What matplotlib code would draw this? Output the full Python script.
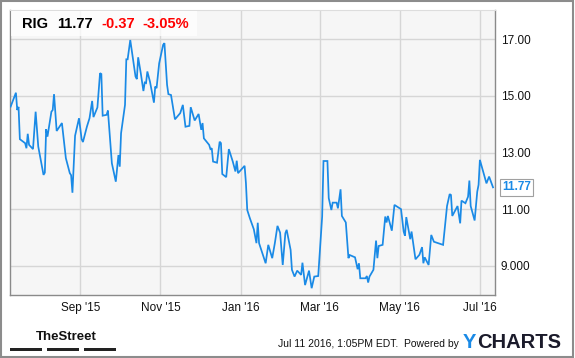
import datetime as dt
import matplotlib
matplotlib.use("Agg")
import matplotlib.pyplot as plt
import matplotlib.dates as mdates
from matplotlib.patches import Rectangle

# RIG daily closing prices, Jul 2015 - Jul 2016
dates = [
    "2015-07-10", "2015-07-14", "2015-07-15", "2015-07-16", "2015-07-17", "2015-07-21",
    "2015-07-22", "2015-07-23", "2015-07-24", "2015-07-27", "2015-07-29", "2015-07-31",
    "2015-08-04", "2015-08-05", "2015-08-06", "2015-08-07", "2015-08-10", "2015-08-11",
    "2015-08-12", "2015-08-14", "2015-08-18", "2015-08-21", "2015-08-24", "2015-08-25",
    "2015-08-26", "2015-08-28", "2015-08-31", "2015-09-02", "2015-09-03", "2015-09-06",
    "2015-09-08", "2015-09-10", "2015-09-11", "2015-09-14", "2015-09-16", "2015-09-17",
    "2015-09-18", "2015-09-21", "2015-09-22", "2015-09-25", "2015-09-28", "2015-09-30",
    "2015-10-01", "2015-10-02", "2015-10-05", "2015-10-06", "2015-10-07", "2015-10-09",
    "2015-10-11", "2015-10-13", "2015-10-14", "2015-10-15", "2015-10-17", "2015-10-19",
    "2015-10-20", "2015-10-21", "2015-10-22", "2015-10-24", "2015-10-27", "2015-10-28",
    "2015-10-29", "2015-10-31", "2015-11-03", "2015-11-04", "2015-11-06", "2015-11-07",
    "2015-11-09", "2015-11-12", "2015-11-16", "2015-11-18", "2015-11-20", "2015-11-23",
    "2015-11-24", "2015-11-27", "2015-11-30", "2015-12-02", "2015-12-03", "2015-12-04",
    "2015-12-08", "2015-12-09", "2015-12-10", "2015-12-11", "2015-12-14", "2015-12-16",
    "2015-12-17", "2015-12-18", "2015-12-21", "2015-12-23", "2015-12-26", "2015-12-28",
    "2015-12-29", "2015-12-30", "2016-01-04", "2016-01-05", "2016-01-06", "2016-01-08",
    "2016-01-11", "2016-01-13", "2016-01-14", "2016-01-15", "2016-01-20", "2016-01-22",
    "2016-01-25", "2016-01-27", "2016-01-29", "2016-01-31", "2016-02-02", "2016-02-04",
    "2016-02-05", "2016-02-08", "2016-02-09", "2016-02-11", "2016-02-13", "2016-02-16",
    "2016-02-17", "2016-02-19", "2016-02-22", "2016-02-24", "2016-02-26", "2016-02-29",
    "2016-03-03", "2016-03-04", "2016-03-07", "2016-03-08", "2016-03-10", "2016-03-11",
    "2016-03-14", "2016-03-15", "2016-03-17", "2016-03-18", "2016-03-21", "2016-03-23",
    "2016-03-24", "2016-03-28", "2016-03-30", "2016-03-31", "2016-04-01", "2016-04-05",
    "2016-04-06", "2016-04-07", "2016-04-08", "2016-04-11", "2016-04-13", "2016-04-14",
    "2016-04-15", "2016-04-18", "2016-04-20", "2016-04-21", "2016-04-22", "2016-04-25",
    "2016-04-27", "2016-05-02", "2016-05-04", "2016-05-05", "2016-05-06", "2016-05-09",
    "2016-05-10", "2016-05-13", "2016-05-16", "2016-05-18", "2016-05-19", "2016-05-20",
    "2016-05-23", "2016-05-25", "2016-05-27", "2016-06-01", "2016-06-03", "2016-06-06",
    "2016-06-08", "2016-06-09", "2016-06-10", "2016-06-14", "2016-06-16", "2016-06-17",
    "2016-06-20", "2016-06-22", "2016-06-23", "2016-06-24", "2016-06-27", "2016-06-29",
    "2016-06-30", "2016-07-01", "2016-07-06", "2016-07-08", "2016-07-11",
]
prices = [
    14.62, 15.11, 14.50, 14.61, 13.47, 13.33,
    13.15, 13.66, 13.27, 13.12, 14.44, 13.21,
    12.21, 12.29, 13.82, 13.56, 14.44, 14.50,
    15.06, 13.76, 14.04, 12.80, 12.27, 12.20,
    11.58, 13.59, 14.21, 13.47, 13.37, 13.91,
    14.21, 14.82, 14.25, 14.59, 15.80, 15.77,
    14.30, 14.33, 14.48, 12.62, 11.97, 12.91,
    12.50, 13.68, 14.68, 16.29, 16.29, 16.97,
    16.33, 15.68, 15.59, 16.36, 15.80, 15.17,
    15.47, 15.45, 15.86, 15.50, 14.76, 15.33,
    15.27, 16.15, 16.80, 16.86, 15.39, 15.06,
    15.03, 14.17, 14.39, 14.68, 13.91, 13.94,
    14.60, 14.13, 14.36, 13.80, 14.04, 13.50,
    13.27, 13.12, 13.15, 12.68, 12.64, 13.38,
    13.33, 12.24, 12.13, 13.12, 12.68, 12.33,
    12.71, 12.27, 12.53, 11.92, 10.97, 10.68,
    10.29, 9.80, 10.52, 9.80, 9.09, 9.74,
    9.27, 9.80, 10.41, 10.17, 9.03, 10.15,
    10.27, 9.56, 8.86, 8.62, 8.83, 8.68,
    9.11, 8.32, 8.83, 8.21, 8.62, 8.64,
    10.74, 12.70, 12.70, 11.39, 10.97, 11.23,
    11.23, 11.03, 11.70, 10.76, 10.53, 9.27,
    9.38, 9.30, 8.88, 9.09, 8.56, 8.56,
    8.64, 8.41, 8.62, 8.86, 9.89, 9.27,
    9.70, 9.74, 10.74, 10.53, 10.76, 10.24,
    11.15, 11.00, 10.21, 10.06, 10.72, 9.94,
    10.21, 9.23, 9.39, 9.66, 9.09, 9.30,
    9.03, 10.09, 9.85, 9.77, 9.74, 11.11,
    11.53, 11.50, 10.76, 11.11, 10.50, 11.30,
    11.21, 11.44, 12.01, 11.11, 10.60, 11.62,
    11.86, 12.74, 11.91, 12.15, 11.77,
]

# Axis ticks
x_ticks = ["2015-09-01", "2015-11-01", "2016-01-01", "2016-03-01", "2016-05-01", "2016-07-01"]
y_ticks = [9, 11, 13, 15, 17]
y_tick_labels = ["9.000", "11.00", "13.00", "15.00", "17.00"]

# Header values
ticker = "RIG"
last_price = "11.77"
change = "-0.37"
change_pct = "-3.05%"
footer_text = "Jul 11 2016, 1:05PM EDT.  Powered by"

LINE_BLUE = "#1a8ae6"
W, H = 575, 358

plt.rcParams["font.family"] = ["Liberation Sans", "DejaVu Sans"]

fig = plt.figure(figsize=(W / 100, H / 100), dpi=100)
fig.patch.set_facecolor("white")

# Helper to convert pixel coords (from top-left) to figure fraction
def fx(px):
    return px / W

def fy(py):
    return 1 - py / H

ax = fig.add_axes([fx(10), fy(295), fx(495) - fx(10), fy(10) - fy(295)])
ax.set_facecolor("#f6f6f6")

date_vals = [dt.datetime.strptime(d, "%Y-%m-%d") for d in dates]
ax.plot(date_vals, prices, color=LINE_BLUE, lw=1.25, solid_joinstyle="miter", zorder=3)

# Axis limits
ax.set_xlim(dt.datetime(2015, 7, 9, 12), dt.datetime(2016, 7, 12, 12))
ax.set_ylim(7.97, 18.03)

# X ticks: month starts
ax.set_xticks([dt.datetime.strptime(d, "%Y-%m-%d") for d in x_ticks])
ax.xaxis.set_major_formatter(mdates.DateFormatter("%b '%y"))

# Y ticks on the right
ax.yaxis.tick_right()
ax.set_yticks(y_ticks)
ax.set_yticklabels(y_tick_labels)

ax.tick_params(axis="x", length=0, pad=5, labelsize=8.5, colors="#111111")
ax.tick_params(axis="y", length=0, pad=4, labelsize=8.5, colors="#111111")

# Grid lines
ax.grid(True, color="#d6d6d6", lw=1)
ax.set_axisbelow(True)

for side in ["left", "right", "bottom"]:
    ax.spines[side].set_color("#8a8a8a")
    ax.spines[side].set_linewidth(1)
ax.spines["top"].set_color("#dddddd")

# Last price flag
ax.annotate(last_price, xy=(1, prices[-1]), xycoords=("axes fraction", "data"),
            xytext=(5, 0), textcoords="offset points", ha="left", va="center",
            fontsize=8.5, fontweight="bold", color=LINE_BLUE,
            bbox=dict(boxstyle="square,pad=0.2", fc="white", ec="#a0a0a0", lw=0.8),
            zorder=5)

# Header box with ticker info
fig.patches.append(Rectangle((fx(10.5), fy(36)), fx(197) - fx(10.5), fy(10.5) - fy(36),
                             transform=fig.transFigure, fc="white", ec="none", alpha=0.75,
                             zorder=2))
header_y = fy(24)
fig.text(fx(22), header_y, ticker, fontsize=10.5, fontweight="bold", color="black", va="center", zorder=3)
fig.text(fx(57), header_y, last_price, fontsize=10.5, fontweight="bold", color="black", va="center", zorder=3)
fig.text(fx(101), header_y, change, fontsize=10.5, fontweight="bold", color="#ff0000", va="center", zorder=3)
fig.text(fx(142), header_y, change_pct, fontsize=10.5, fontweight="bold", color="#ff0000", va="center", zorder=3)

# Footer: TheStreet logo
fig.text(fx(36), fy(337), "TheStreet", fontsize=9.5, fontweight="bold",
         family=["Liberation Sans Narrow", "Liberation Sans"], color="#111111", va="center")
for x0, x1 in [(10, 42), (47, 79), (84, 116)]:
    fig.patches.append(Rectangle((fx(x0), fy(351)), fx(x1) - fx(x0), fy(348) - fy(351),
                                 transform=fig.transFigure, fc="#222222", ec="none"))

# Footer: timestamp and YCharts logo
fig.text(fx(459), fy(344), footer_text, fontsize=7.5, color="#111111", ha="right", va="center")
fig.text(fx(463), fy(342), "Y", fontsize=14.5, fontweight="bold", color=LINE_BLUE, va="center")
fig.text(fx(477), fy(342), "CHARTS", fontsize=14.5, fontweight="bold", color="#1b1b2b", va="center")

# Outer frame
fig.patches.append(Rectangle((fx(1), fy(356.5)), fx(573) - fx(1), fy(1) - fy(356.5),
                             transform=fig.transFigure, fc="none", ec="#8c8c8c", lw=1.5))

fig.savefig("out.png", dpi=100, facecolor="white")
